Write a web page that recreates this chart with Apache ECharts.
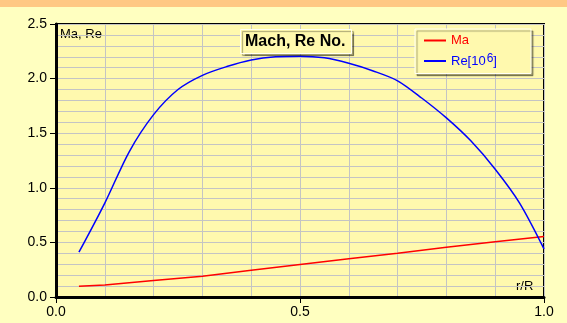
<!DOCTYPE html>
<html>
<head>
<meta charset="utf-8">
<script src="https://cdn.jsdelivr.net/npm/echarts@6/dist/echarts.min.js"></script>
<style>
html,body{margin:0;padding:0;background:#ffffc0;}
#top{position:absolute;left:0;top:0;width:567px;height:7px;background:#ffc884;}
#c{position:absolute;left:0;top:0;width:567px;height:323px;}
</style>
</head>
<body>
<div id="c"></div>
<div id="top"></div>
<script>
const rR = [0.047, 0.10, 0.15, 0.20, 0.25, 0.30, 0.35, 0.40, 0.45, 0.50, 0.55, 0.60, 0.65, 0.70, 0.75, 0.80, 0.85, 0.90, 0.95, 1.0];
const reValues = [0.41, 0.86, 1.33, 1.67, 1.90, 2.03, 2.11, 2.17, 2.20, 2.205, 2.19, 2.14, 2.07, 1.98, 1.82, 1.64, 1.43, 1.17, 0.86, 0.44];
const maR = [0.047, 0.1, 0.2, 0.3, 0.4, 0.5, 0.6, 0.7, 0.8, 0.9, 1.0];
const maValues = [0.098, 0.11, 0.15, 0.19, 0.245, 0.297, 0.35, 0.40, 0.455, 0.505, 0.553];
const yTicks = ['0.0','0.5','1.0','1.5','2.0','2.5'];
const xTicks = ['0.0','0.5','1.0'];
const titleText = 'Mach, Re No.';
const seriesNames = ['Ma', 'Re'];

const chart = echarts.init(document.getElementById('c'), null, {renderer:'canvas'});
const font = 'Arial, "Liberation Sans", sans-serif';
const gridLine = {show:true, lineStyle:{color:'#c4c4c4', width:1}};
chart.setOption({
  backgroundColor:'#ffffc0',
  animation:false,
  textStyle:{fontFamily:font},
  grid:{left:56, right:23, top:24, bottom:26, show:true, backgroundColor:'#fff9ae', borderColor:'#000', borderWidth:2},
  title:{
    text:titleText, left:240, top:29,
    padding:[5,6,4,5],
    backgroundColor:'#fff9ae', borderColor:'#fffff4', borderWidth:1,
    shadowColor:'rgba(0,0,0,0.35)', shadowOffsetX:2, shadowOffsetY:2, shadowBlur:1,
    textStyle:{fontSize:16, fontWeight:'bold', color:'#000', fontFamily:font}
  },
  legend:{
    orient:'vertical', left:415, top:29,
    padding:[5,34,6,9], itemGap:6,
    itemWidth:22, itemHeight:2, icon:'rect',
    backgroundColor:'#fff9ae', borderColor:'#fffff4', borderWidth:1,
    shadowColor:'rgba(0,0,0,0.35)', shadowOffsetX:2, shadowOffsetY:2, shadowBlur:1,
    data:[
      {name:'Ma', icon:'rect', textStyle:{color:'#ff0000'}},
      {name:'Re', icon:'rect', textStyle:{color:'#0000ff'}}
    ],
    formatter:function(n){ return n==='Re' ? '{b|Re[10}{s|6}{b|]}' : '{r|Ma}'; },
    textStyle:{fontSize:13, fontFamily:font,
      rich:{
        r:{color:'#ff0000', fontSize:13, fontFamily:font, height:16},
        b:{color:'#0000ff', fontSize:13, fontFamily:font, verticalAlign:'bottom', height:16},
        s:{color:'#0000ff', fontSize:12, fontFamily:font, verticalAlign:'top', padding:[0,0,4,1]}
      }
    }
  },
  xAxis:{
    type:'value', min:0, max:1, interval:0.5,
    axisLine:{show:true, onZero:false, lineStyle:{color:'#000', width:3}},
    axisTick:{show:true, length:6, lineStyle:{color:'#000', width:1}},
    axisLabel:{color:'#000', fontSize:14, margin:8, fontFamily:font,
      formatter:function(v){ return xTicks[Math.round(v*2)]; }},
    splitLine:gridLine,
    minorTick:{show:false, splitNumber:5},
    minorSplitLine:gridLine
  },
  yAxis:{
    type:'value', min:0, max:2.5, interval:0.5,
    axisLine:{show:true, onZero:false, lineStyle:{color:'#000', width:3}},
    axisTick:{show:true, length:6, lineStyle:{color:'#000', width:1}},
    axisLabel:{color:'#000', fontSize:14, margin:9, fontFamily:font,
      formatter:function(v){ return yTicks[Math.round(v*2)]; }},
    splitLine:gridLine,
    minorTick:{show:false, splitNumber:5},
    minorSplitLine:gridLine
  },
  graphic:[
    {type:'text', left:60, top:28, style:{text:'Ma, Re', fill:'#000', font:'13px '+font}},
    {type:'text', left:516, top:280, style:{text:'r/R', fill:'#000', font:'13px '+font}}
  ],
  series:[
    {name:'Ma', type:'line', symbol:'none', smooth:false,
     lineStyle:{color:'#ff0000', width:1.5}, itemStyle:{color:'#ff0000'},
     data:maR.map((x,i)=>[x, maValues[i]])},
    {name:'Re', type:'line', symbol:'none', smooth:0.3,
     lineStyle:{color:'#0000ff', width:1.5}, itemStyle:{color:'#0000ff'},
     data:rR.map((x,i)=>[x, reValues[i]])}
  ]
});
</script>
</body>
</html>
